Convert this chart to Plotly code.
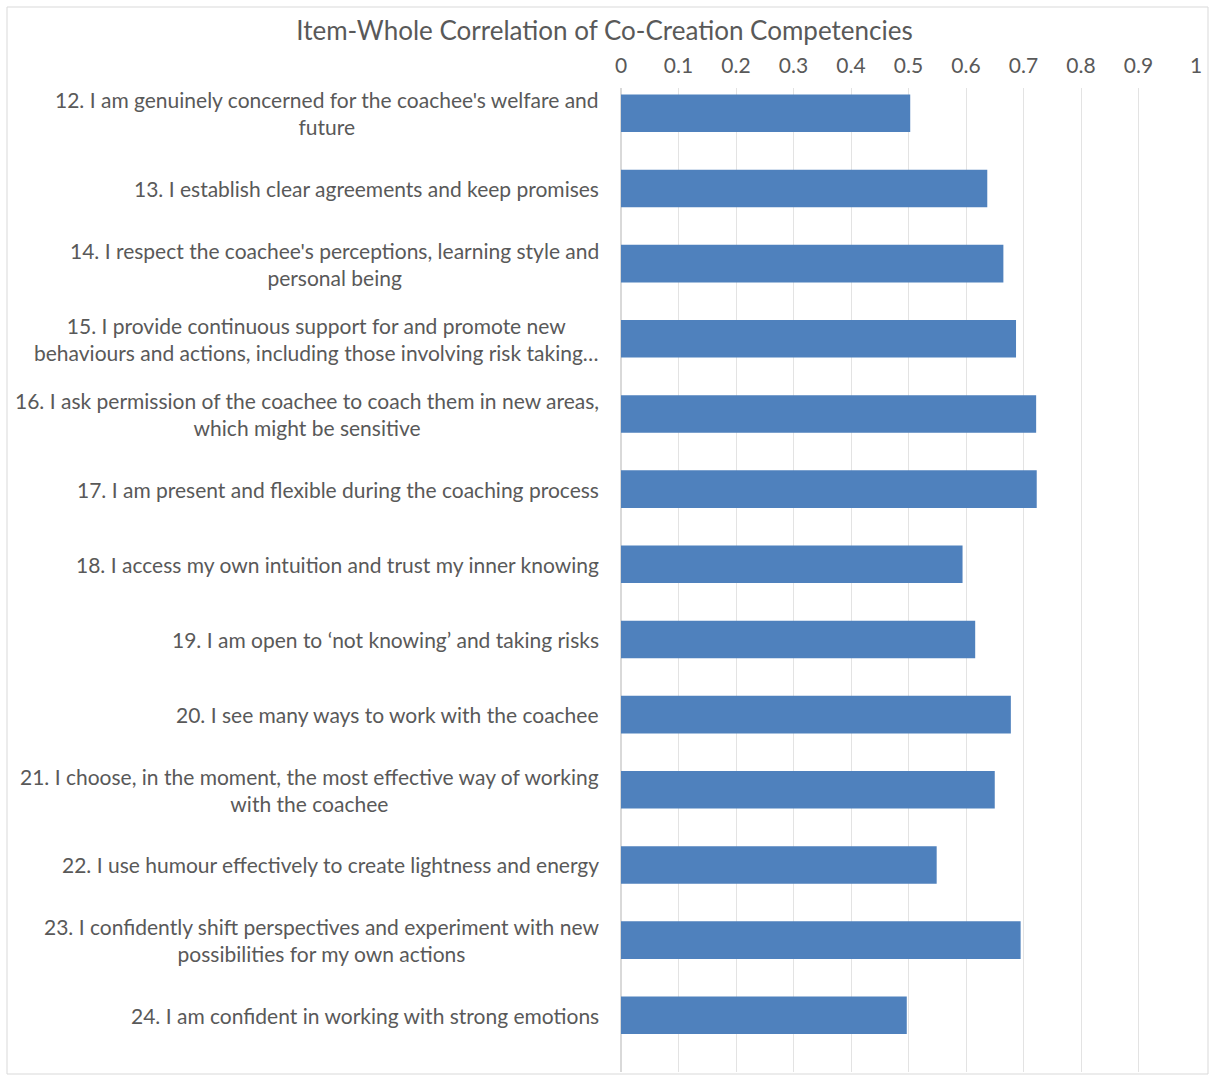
import plotly.graph_objects as go

# Item labels (line breaks follow the wrapped layout of each competency)
items = [
    "12. I am genuinely concerned for the coachee's welfare and<br>future",
    "13. I establish clear agreements and keep promises",
    "14. I respect the coachee's perceptions, learning style and<br>personal being",
    "15. I provide continuous support for and promote new<br>behaviours and actions, including those involving risk taking…",
    "16. I ask permission of the coachee to coach them in new areas,<br>which might be sensitive",
    "17. I am present and flexible during the coaching process",
    "18. I access my own intuition and trust my inner knowing",
    "19. I am open to ‘not knowing’ and taking risks",
    "20. I see many ways to work with the coachee",
    "21. I choose, in the moment, the most effective way of working<br>with the coachee",
    "22. I use humour effectively to create lightness and energy",
    "23. I confidently shift perspectives and experiment with new<br>possibilities for my own actions",
    "24. I am confident in working with strong emotions",
]

# Item-whole correlation per item
correlations = [0.503, 0.637, 0.665, 0.687, 0.722, 0.723, 0.594,
                0.616, 0.678, 0.650, 0.549, 0.695, 0.497]

tick_vals = [0, 0.1, 0.2, 0.3, 0.4, 0.5, 0.6, 0.7, 0.8, 0.9, 1]
tick_text = ["0", "0.1", "0.2", "0.3", "0.4", "0.5", "0.6", "0.7", "0.8", "0.9", "1"]

W, H = 1209, 1075
ML, MR, MT, MB = 621, 13, 88, 3
FONT = "Lato, 'Open Sans', sans-serif"
GREY = "#595959"

fig = go.Figure(
    go.Bar(
        x=correlations,
        y=list(range(len(items))),
        orientation="h",
        marker=dict(color="#4f81bd", line=dict(width=0)),
        width=0.5,
        hoverinfo="x",
    )
)

# Category labels: right-aligned block, lines centred within the block
for i, label in enumerate(items):
    fig.add_annotation(
        x=0, xref="paper", y=i, yref="y",
        text=label, showarrow=False,
        xanchor="right", yanchor="middle", align="center",
        xshift=-20,
        font=dict(family=FONT, size=21, color=GREY),
    )

# Chart border
pw = W - ML - MR
ph = H - MT - MB
fig.add_shape(
    type="rect", xref="paper", yref="paper",
    x0=-(ML - 7) / pw, x1=1 + (MR - 1) / pw,
    y0=-(MB - 1) / ph, y1=1 + (MT - 7) / ph,
    line=dict(color="#d9d9d9", width=1),
)

fig.update_layout(
    width=W, height=H,
    margin=dict(l=ML, r=MR, t=MT, b=MB),
    paper_bgcolor="white",
    plot_bgcolor="white",
    showlegend=False,
    title=dict(
        text="Item-Whole Correlation of Co-Creation Competencies",
        x=0.5, xref="container", y=1 - 31 / H, yref="container",
        xanchor="center", yanchor="middle",
        font=dict(family=FONT, size=26, color=GREY),
    ),
    xaxis=dict(
        side="top",
        range=[0, 1],
        tickvals=tick_vals,
        ticktext=tick_text,
        showgrid=True,
        gridcolor="#e3e3e3",
        gridwidth=1,
        zeroline=True,
        zerolinecolor="#d9d9d9",
        showline=False,
        ticks="",
        ticklabelstandoff=10,
        tickfont=dict(family=FONT, size=21, color=GREY),
        fixedrange=True,
    ),
    yaxis=dict(
        range=[12.754, -0.337],
        showticklabels=False,
        showgrid=False,
        zeroline=False,
        ticks="",
        fixedrange=True,
    ),
)

fig.write_html("out.html")
